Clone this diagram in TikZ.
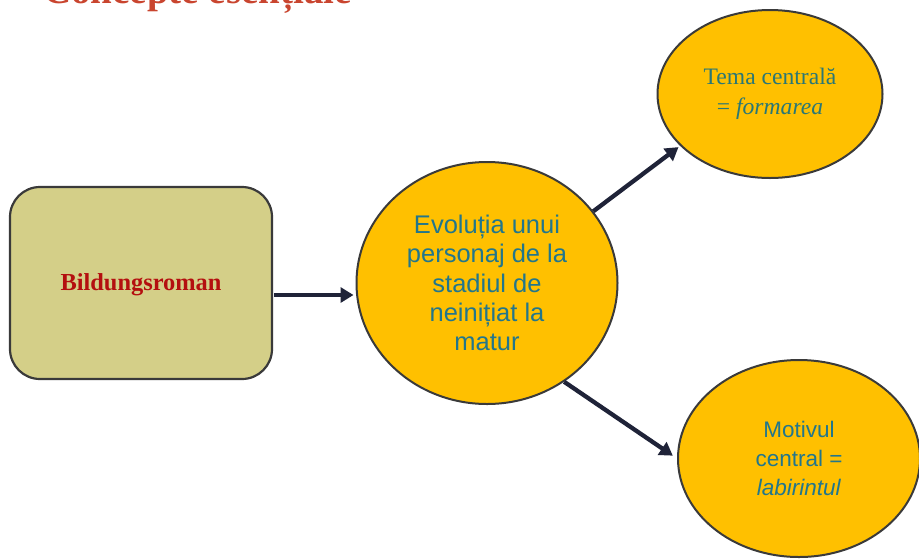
\documentclass[tikz,border=0pt]{standalone}
\usepackage{fontspec}
\setmainfont{Liberation Serif}
\setsansfont{Liberation Sans}
\usetikzlibrary{shapes.geometric,arrows.meta}
\definecolor{gold}{HTML}{FFC000}
\definecolor{khaki}{HTML}{D4CF88}
\definecolor{edge}{HTML}{3A3A3A}
\definecolor{arrowc}{HTML}{1F2338}
\definecolor{tealsans}{HTML}{22768C}
\definecolor{tealserif}{HTML}{2A7775}
\definecolor{darkred}{HTML}{B40F0F}
\definecolor{titlered}{HTML}{C9452F}
\tikzset{
  bubble/.style={ellipse, draw=edge, line width=2pt, fill=gold, inner sep=0pt, align=center},
  boxnode/.style={rectangle, rounded corners=30pt, draw=edge, line width=2.2pt, fill=khaki, inner sep=0pt},
  arr/.style={draw=arrowc, line width=4.3pt, -{Triangle[length=13pt,width=15pt]}},
}
\begin{document}
\begin{tikzpicture}[x=1pt,y=-1pt]
\useasboundingbox (0,0) rectangle (919,558);
\clip (0,0) rectangle (919,558);
\node[anchor=base west, inner sep=0pt, text=titlered, font=\fontsize{39}{44}\selectfont\bfseries] (title) at (43,3) {Concepte esențiale};
\node[boxnode, minimum width=262pt, minimum height=192pt] (r) at (141,283) {};
\node[text=darkred, font=\fontsize{24.4}{28}\selectfont\bfseries] (rl) at (141,285) {Bildungsroman};
\node[bubble, minimum width=261pt, minimum height=242pt, text=tealsans, font=\sffamily\fontsize{25.5}{29.2}\selectfont] (c) at (487,283) {Evoluția unui\\personaj de la\\stadiul de\\neinițiat la\\matur};
\node[bubble, minimum width=225pt, minimum height=168pt, text=tealserif, font=\fontsize{23.6}{30}\selectfont] (t) at (770,94) {Tema centrală\\= \textit{formarea}};
\node[bubble, minimum width=242pt, minimum height=197pt, text=tealsans, font=\sffamily\fontsize{22.5}{29}\selectfont] (b) at (799,458.5) {Motivul\\central =\\\textit{labirintul}};
\draw[arr, shorten <=1pt, shorten >=2pt] ([yshift=-12pt]r.east) -- ([yshift=-12pt]c.west);
\draw[arr, shorten >=2pt] (c.34) -- (t.210);
\draw[arr, shorten >=5pt] (c.-52) -- (b.west);
\end{tikzpicture}
\end{document}
